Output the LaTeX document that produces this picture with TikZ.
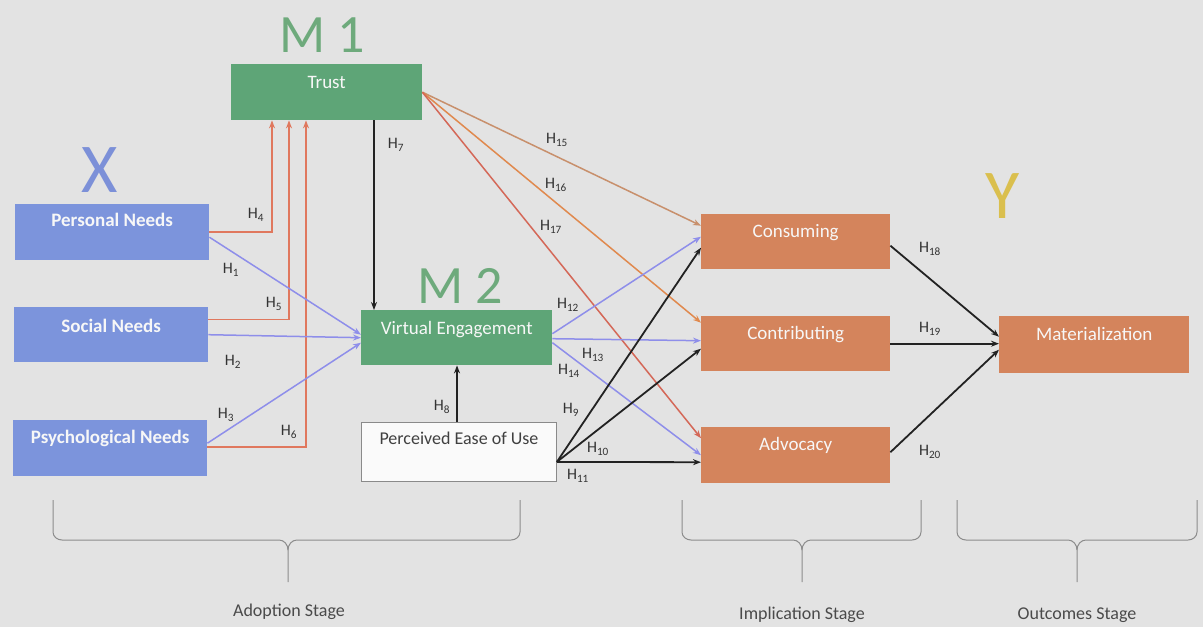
\documentclass[tikz,border=0pt]{standalone}
\usepackage{fontspec}
\setmainfont{Carlito}
\usetikzlibrary{arrows.meta}

\definecolor{bgcol}{HTML}{E3E3E3}
\definecolor{bluebox}{HTML}{7C94DC}
\definecolor{greenbox}{HTML}{5EA577}
\definecolor{orangebox}{HTML}{D4845C}
\definecolor{peuborder}{HTML}{8A8A8A}
\definecolor{bluearr}{HTML}{8E8EEA}
\definecolor{redarr}{HTML}{E0785E}
\definecolor{tanarr}{HTML}{C8906C}
\definecolor{orangearr}{HTML}{E0894E}
\definecolor{roseArr}{HTML}{D46858}
\definecolor{blackarr}{HTML}{222222}
\definecolor{mgreen}{HTML}{6EAA7C}
\definecolor{xblue}{HTML}{7C90D8}
\definecolor{yyellow}{HTML}{DABF4E}
\definecolor{bracecol}{HTML}{8C8C8C}
\definecolor{stagetext}{HTML}{4A4A4A}
\definecolor{hlabel}{HTML}{333333}

\tikzset{
  box/.style={rectangle, anchor=north west, inner xsep=0pt, inner ysep=0pt,
    font=\fontsize{19}{22}\selectfont, text=white!94!gray},
  bluenode/.style={box, fill=bluebox, font=\fontsize{19}{22}\selectfont\bfseries},
  greennode/.style={box, fill=greenbox},
  orangenode/.style={box, fill=orangebox},
  whitenode/.style={box, fill=white!96!gray, draw=peuborder, line width=0.9pt, text=black!75},
  hyp/.style={font=\fontsize{16}{18}\selectfont, text=hlabel, inner sep=1pt},
  bigmark/.style={anchor=base, inner sep=0pt},
  arr/.style={line width=1.5pt, -{Stealth[length=8pt,width=6pt]}},
  blackline/.style={arr, draw=blackarr, line width=1.8pt},
  blueline/.style={arr, draw=bluearr},
  redline/.style={arr, draw=redarr},
  tanline/.style={arr, draw=tanarr},
  orangeline/.style={arr, draw=orangearr},
  roseline/.style={arr, draw=roseArr},
  bracket/.style={draw=bracecol, line width=1pt},
  stage/.style={font=\fontsize{18}{20}\selectfont, text=stagetext}
}

\begin{document}
\begin{tikzpicture}[x=1pt, y=-1pt]
  % canvas
  \fill[bgcol] (0,0) rectangle (1203,627);
  \useasboundingbox (0,0) rectangle (1203,627);

  % group markers
  \node[bigmark, font=\fontsize{54}{60}\selectfont, text=mgreen] (m1) at (322,52) {M 1};
  \node[bigmark, font=\fontsize{54}{60}\selectfont, text=mgreen] (m2) at (460,303) {M 2};
  \node[bigmark, font=\fontsize{70}{80}\selectfont, text=xblue] (xmark) at (100,192) {X};
  \node[bigmark, font=\fontsize{70}{80}\selectfont, text=yyellow] (ymark) at (1003,218) {Y};

  % boxes
  \node[greennode, minimum width=191pt, text height=24pt, text depth=32pt] (trust) at (231,64) {Trust};
  \node[bluenode, minimum width=194pt, text height=22pt, text depth=34pt] (pn) at (15,204) {Personal Needs};
  \node[bluenode, minimum width=194pt, text height=25pt, text depth=30pt] (sn) at (14,307) {Social Needs};
  \node[bluenode, minimum width=194pt, text height=23pt, text depth=33pt] (psy) at (13,420) {Psychological Needs};
  \node[greennode, minimum width=191pt, text height=24pt, text depth=31pt] (ve) at (361,310) {Virtual Engagement};
  \node[whitenode, minimum width=195pt, text height=22pt, text depth=37pt, font=\fontsize{18}{22}\selectfont] (peu) at (361,422) {Perceived Ease of Use};
  \node[orangenode, minimum width=189pt, text height=23pt, text depth=32pt] (cons) at (701,214) {Consuming};
  \node[orangenode, minimum width=189pt, text height=23pt, text depth=32pt] (contr) at (701,316) {Contributing};
  \node[orangenode, minimum width=189pt, text height=23pt, text depth=33pt] (adv) at (701,427) {Advocacy};
  \node[orangenode, minimum width=190pt, text height=24pt, text depth=33pt] (mat) at (999,316) {Materialization};

  % needs -> trust (elbow connectors)
  \draw[redline] (pn.east) -| ([xshift=41pt]trust.south west);
  \draw[redline] ([yshift=15pt]sn.east) -| ([xshift=58pt]trust.south west);
  \draw[redline] ([yshift=1pt]psy.east) -| ([xshift=75pt]trust.south west);

  % needs -> virtual engagement
  \draw[blueline] ([yshift=-5pt]pn.east) -- ([yshift=3pt]ve.west);
  \draw[blueline] (sn.east) -- (ve.west);
  \draw[blueline] ([yshift=5pt]psy.east) -- ([yshift=-5pt]ve.west);

  % trust -> virtual engagement, ease of use -> virtual engagement
  \draw[blackline] ([xshift=143pt]trust.south west) -- ([xshift=13pt]ve.north west);
  \draw[blackline] ([xshift=96pt]peu.north west) -- ([xshift=96pt]ve.south west);

  % trust -> implication stage
  \draw[tanline] (trust.east) -- ([yshift=16pt]cons.west);
  \draw[orangeline] (trust.east) -- ([yshift=21pt]contr.west);
  \draw[roseline] (trust.east) -- ([yshift=17pt]adv.west);

  % virtual engagement -> implication stage
  \draw[blueline] ([yshift=4pt]ve.east) -- ([yshift=5pt]cons.west);
  \draw[blueline] ([yshift=-1pt]ve.east) -- ([yshift=3pt]contr.west);
  \draw[blueline] ([yshift=-5pt]ve.east) -- (adv.west);

  % ease of use -> implication stage
  \coordinate (peuout) at ([yshift=20pt]peu.south east);
  \draw[blackline] (peuout) -- ([yshift=-6pt]cons.west);
  \draw[blackline] (peuout) -- ([yshift=-5pt]contr.west);
  \draw[blackline] (peuout) -- ([yshift=-7pt]adv.west);

  % implication -> materialization
  \draw[blackline] ([yshift=-4pt]cons.east) -- ([yshift=8pt]mat.west);
  \draw[blackline] (contr.east) -- (contr.east -| mat.west);
  \draw[blackline] ([yshift=3pt]adv.east) -- ([yshift=-5pt]mat.west);

  % hypothesis labels
  \node[hyp] (lh1) at (231,270) {H\textsubscript{1}};
  \node[hyp] (lh2) at (233,362) {H\textsubscript{2}};
  \node[hyp] (lh3) at (226,415) {H\textsubscript{3}};
  \node[hyp] (lh4) at (256,215) {H\textsubscript{4}};
  \node[hyp] (lh5) at (274,304) {H\textsubscript{5}};
  \node[hyp] (lh6) at (289,432) {H\textsubscript{6}};
  \node[hyp] (lh7) at (396,145) {H\textsubscript{7}};
  \node[hyp] (lh8) at (442,407) {H\textsubscript{8}};
  \node[hyp] (lh9) at (571,410) {H\textsubscript{9}};
  \node[hyp] (lh10) at (598,449) {H\textsubscript{10}};
  \node[hyp] (lh11) at (578,476) {H\textsubscript{11}};
  \node[hyp] (lh12) at (568,305) {H\textsubscript{12}};
  \node[hyp] (lh13) at (593,355) {H\textsubscript{13}};
  \node[hyp] (lh14) at (569,371) {H\textsubscript{14}};
  \node[hyp] (lh15) at (557,140) {H\textsubscript{15}};
  \node[hyp] (lh16) at (556,185) {H\textsubscript{16}};
  \node[hyp] (lh17) at (551,227) {H\textsubscript{17}};
  \node[hyp] (lh18) at (930,249) {H\textsubscript{18}};
  \node[hyp] (lh19) at (930,329) {H\textsubscript{19}};
  \node[hyp] (lh20) at (930,452) {H\textsubscript{20}};

  % stage brackets
  \draw[bracket] (53,500) -- (53,532) to[out=-90,in=180] (62,540) -- (279,540) to[out=0,in=90] (288,550) -- (288,582);
  \draw[bracket] (520,500) -- (520,532) to[out=-90,in=0] (511,540) -- (297,540) to[out=180,in=90] (288,550);
  \draw[bracket] (682,500) -- (682,532) to[out=-90,in=180] (691,540) -- (793,540) to[out=0,in=90] (802,550) -- (802,582);
  \draw[bracket] (921,500) -- (921,532) to[out=-90,in=0] (912,540) -- (811,540) to[out=180,in=90] (802,550);
  \draw[bracket] (957,500) -- (957,532) to[out=-90,in=180] (966,540) -- (1068,540) to[out=0,in=90] (1077,550) -- (1077,582);
  \draw[bracket] (1197,500) -- (1197,532) to[out=-90,in=0] (1188,540) -- (1086,540) to[out=180,in=90] (1077,550);

  % stage names
  \node[stage] (adoption) at (289,612) {Adoption Stage};
  \node[stage] (implication) at (802,615) {Implication Stage};
  \node[stage] (outcomes) at (1077,615) {Outcomes Stage};
\end{tikzpicture}
\end{document}
